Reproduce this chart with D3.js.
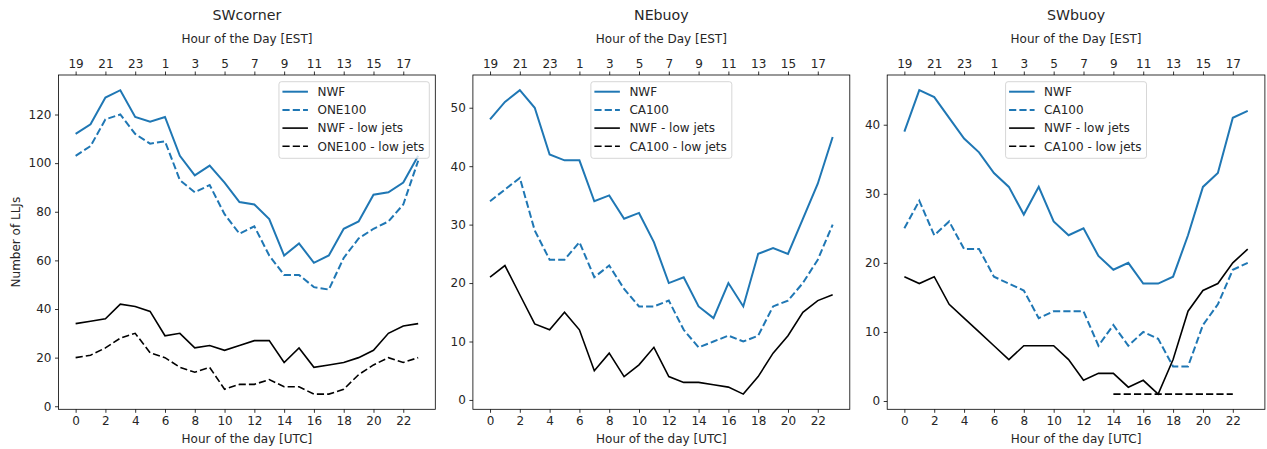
<!DOCTYPE html>
<html>
<head>
<meta charset="utf-8">
<script src="https://cdn.jsdelivr.net/npm/d3@7"></script>
<style>
  html, body { margin: 0; padding: 0; background: #fff; }
  svg { display: block; font-family: "DejaVu Sans", sans-serif; }
</style>
</head>
<body>
<svg id="chart" width="1267" height="449"></svg>
<script>
// Hours of the day (UTC)
const hoursUTC = [0,1,2,3,4,5,6,7,8,9,10,11,12,13,14,15,16,17,18,19,20,21,22,23];
const bottomTicks = [0,2,4,6,8,10,12,14,16,18,20,22];
const topTickLabels = ["19","21","23","1","3","5","7","9","11","13","15","17"];

// SWcorner
const swcNWF     = [112,116,127,130,119,117,119,103,95,99,92,84,83,77,62,67,59,62,73,76,87,88,92,103];
const swcONE100  = [103,107,118,120,112,108,109,93,88,91,79,71,74,62,54,54,49,48,61,69,73,76,83,101];
const swcNWFLow  = [34,35,36,42,41,39,29,30,24,25,23,25,27,27,18,24,16,17,18,20,23,30,33,34];
const swcONELow  = [20,21,24,28,30,22,20,16,14,16,7,9,9,11,8,8,5,5,7,13,17,20,18,20];

// NEbuoy
const nebNWF     = [48,51,53,50,42,41,41,34,35,31,32,27,20,21,16,14,20,16,25,26,25,31,37,45];
const nebCA100   = [34,36,38,29,24,24,27,21,23,19,16,16,17,12,9,10,11,10,11,16,17,20,24,30];
const nebNWFLow  = [21,23,18,13,12,15,12,5,8,4,6,9,4,3,3,2.6,2.2,1,4,8,11,15,17,18];
const nebCALow   = [null,null,null,null,null,null,null,null,null,null,null,null,null,null,null,null,null,null,null,null,null,null,null,null];

// SWbuoy
const swbNWF     = [39,45,44,41,38,36,33,31,27,31,26,24,25,21,19,20,17,17,18,24,31,33,41,42];
const swbCA100   = [25,29,24,26,22,22,18,17,16,12,13,13,13,8,11,8,10,9,5,5,11,14,19,20];
const swbNWFLow  = [18,17,18,14,12,10,8,6,8,8,8,6,3,4,4,2,3,1,6,13,16,17,20,22];
const swbCALow   = [null,null,null,null,null,null,null,null,null,null,null,null,null,null,1,1,1,1,1,1,1,1,1,null];

const BLUE = "#1f77b4";
const BLACK = "#000000";

const panels = [
  { title: "SWcorner", left: 58.5, right: 435.3, yDomain: [-1.25, 136.25], yTicks: [0,20,40,60,80,100,120],
    legendPos: "right", ylabel: true,
    series: [
      { name: "NWF", values: swcNWF, color: BLUE, dash: false },
      { name: "ONE100", values: swcONE100, color: BLUE, dash: true },
      { name: "NWF - low jets", values: swcNWFLow, color: BLACK, dash: false },
      { name: "ONE100 - low jets", values: swcONELow, color: BLACK, dash: true }
    ] },
  { title: "NEbuoy", left: 472.9, right: 849.8, yDomain: [-1.6, 55.6], yTicks: [0,10,20,30,40,50],
    legendPos: "center", ylabel: false,
    series: [
      { name: "NWF", values: nebNWF, color: BLUE, dash: false },
      { name: "CA100", values: nebCA100, color: BLUE, dash: true },
      { name: "NWF - low jets", values: nebNWFLow, color: BLACK, dash: false },
      { name: "CA100 - low jets", values: nebCALow, color: BLACK, dash: true }
    ] },
  { title: "SWbuoy", left: 887.2, right: 1264.9, yDomain: [-1.2, 47.2], yTicks: [0,10,20,30,40],
    legendPos: "center", ylabel: false,
    series: [
      { name: "NWF", values: swbNWF, color: BLUE, dash: false },
      { name: "CA100", values: swbCA100, color: BLUE, dash: true },
      { name: "NWF - low jets", values: swbNWFLow, color: BLACK, dash: false },
      { name: "CA100 - low jets", values: swbCALow, color: BLACK, dash: true }
    ] }
];

const TOP = 75, BOTTOM = 409.3;
const FS = 12;
const svg = d3.select("#chart");

panels.forEach(p => {
  const x = d3.scaleLinear().domain([-1.15, 24.15]).range([p.left, p.right]);
  const y = d3.scaleLinear().domain(p.yDomain).range([BOTTOM, TOP]);
  const g = svg.append("g");

  // series lines
  const line = d3.line()
    .defined(d => d != null)
    .x((d, i) => x(hoursUTC[i]))
    .y(d => y(d));

  p.series.forEach(s => {
    g.append("path")
      .attr("d", line(s.values))
      .attr("fill", "none")
      .attr("stroke", s.color)
      .attr("stroke-width", s.color === BLUE ? 2 : 1.6)
      .attr("stroke-linejoin", "miter")
      .attr("stroke-linecap", "butt")
      .attr("stroke-dasharray", s.dash ? "7.2,3.1" : null);
  });

  // bottom axis
  const xb = g.append("g").attr("transform", `translate(0,${BOTTOM})`)
    .call(d3.axisBottom(x).tickValues(bottomTicks).tickSize(3.5).tickPadding(3.5).tickFormat(d3.format("d")));
  // top axis (EST)
  const xt = g.append("g").attr("transform", `translate(0,${TOP})`)
    .call(d3.axisTop(x).tickValues(bottomTicks).tickSize(3.5).tickPadding(3.5)
      .tickFormat((d, i) => topTickLabels[i]));
  // left axis
  const yl = g.append("g").attr("transform", `translate(${p.left},0)`)
    .call(d3.axisLeft(y).tickValues(p.yTicks).tickSize(3.5).tickPadding(3.5).tickFormat(d3.format("d")));

  [xb, xt, yl].forEach(a => {
    a.select(".domain").remove();
    a.selectAll(".tick line").attr("stroke", "#000").attr("stroke-width", 0.8);
    a.selectAll(".tick text").attr("font-size", FS).attr("fill", "#262626")
      .attr("font-family", "DejaVu Sans, sans-serif");
  });

  // frame
  g.append("rect")
    .attr("x", p.left).attr("y", TOP)
    .attr("width", p.right - p.left).attr("height", BOTTOM - TOP)
    .attr("fill", "none").attr("stroke", "#000").attr("stroke-width", 0.8);

  const cx = (p.left + p.right) / 2;
  g.append("text").attr("x", cx).attr("y", 19.5).attr("text-anchor", "middle")
    .attr("font-size", 14.2).attr("fill", "#262626").text(p.title);
  g.append("text").attr("x", cx).attr("y", 42.5).attr("text-anchor", "middle")
    .attr("font-size", FS).attr("fill", "#262626").text("Hour of the Day [EST]");
  g.append("text").attr("x", cx).attr("y", 443).attr("text-anchor", "middle")
    .attr("font-size", FS).attr("fill", "#262626").text("Hour of the day [UTC]");
  if (p.ylabel) {
    g.append("text")
      .attr("transform", `translate(19.5,${(TOP + BOTTOM) / 2}) rotate(-90)`)
      .attr("text-anchor", "middle").attr("font-size", FS).attr("fill", "#262626")
      .text("Number of LLJs");
  }

  // legend
  const texts = p.series.map(s => s.name);
  const probe = g.append("text").attr("font-size", FS).attr("visibility", "hidden");
  let maxW = 0;
  texts.forEach(t => { probe.text(t); maxW = Math.max(maxW, probe.node().getComputedTextLength()); });
  probe.remove();
  const legW = 3.5 + 25.5 + 9.5 + maxW + 5;
  const legH = 76.6;
  const legX = p.legendPos === "right" ? p.right - 6 - legW : cx - legW / 2;
  const legY = 81.7;
  const lg = g.append("g").attr("transform", `translate(${legX},${legY})`);
  lg.append("rect").attr("width", legW).attr("height", legH).attr("rx", 2.5)
    .attr("fill", "#fff").attr("fill-opacity", 0.8)
    .attr("stroke", "#cccccc").attr("stroke-opacity", 0.8).attr("stroke-width", 1);
  p.series.forEach((s, i) => {
    const ey = 10 + i * 18.2;
    lg.append("line").attr("x1", 3.5).attr("x2", 29).attr("y1", ey).attr("y2", ey)
      .attr("stroke", s.color).attr("stroke-width", s.color === BLUE ? 2 : 1.6)
      .attr("stroke-dasharray", s.dash ? "7.2,3.1" : null);
    lg.append("text").attr("x", 38.5).attr("y", ey + 4.3).attr("font-size", FS)
      .attr("fill", "#262626").text(s.name);
  });
});
</script>
</body>
</html>
